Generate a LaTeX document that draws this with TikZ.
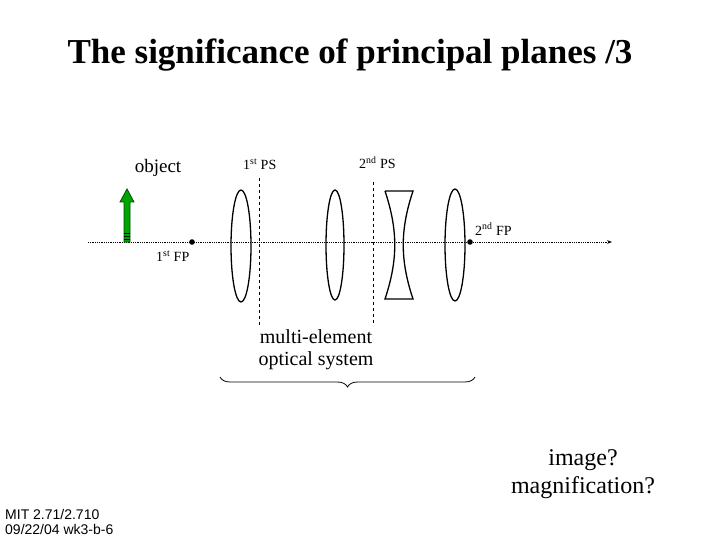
\documentclass[tikz,border=0pt]{standalone}
\usepackage{fontspec}
\setmainfont{Liberation Serif}
\setsansfont{Liberation Sans}
\usetikzlibrary{decorations.pathreplacing,arrows.meta}
\tikzset{lens/.style={draw,line width=1.3pt},pl/.style={dashed,line width=0.5pt},
 lab/.style={font=\fontsize{14}{16}\selectfont,inner sep=0pt}}
\begin{document}
\begin{tikzpicture}[x=1pt,y=-1pt]
\useasboundingbox[fill=white] (0,0) rectangle (720,540);
\node (title) at (350,55) {\fontsize{35}{40}\selectfont\bfseries The significance of principal planes /3};
\coordinate (a0) at (88,242); \coordinate (a1) at (612,242);
\draw[densely dotted,line width=0.8pt,-{Stealth[length=5pt]}] (a0) -- (a1);
\fill (192,242) circle (2.8) node (fp1) {};
\fill (470,242) circle (2.8) node (fp2) {};
\draw[lens] (241,246) ellipse (10 and 56);
\draw[lens] (335,245) ellipse (9 and 55);
\draw[lens] (455,245) ellipse (10 and 56);
\draw[lens] (385,191) -- (413,191) .. controls (400,230) and (400,260) .. (413,299) -- (385,299) .. controls (398,260) and (398,230) .. (385,191);
\draw[pl] (259,178) -- (259,325);
\draw[pl] (373,182) -- (373,325);
\draw[fill=green!65!black,draw=black!70!green,line width=0.8pt] (124,242) -- (124,202) -- (120,202) -- (127,189) -- (134,202) -- (130,202) -- (130,242) -- cycle;
\draw[black,line width=0.7pt] (124,233)--(130,233) (124,236)--(130,236) (124,239)--(130,239);
\node (obj) at (158,168) {\fontsize{19}{22}\selectfont object};
\node[lab,anchor=west] (ps1) at (243,164) {1\textsuperscript{st} PS};
\node[lab,anchor=west] (ps2) at (359,163) {2\textsuperscript{nd} PS};
\node[lab,anchor=west] (fpl2) at (475,229) {2\textsuperscript{nd} FP};
\node[lab,anchor=west] (fpl1) at (156,256) {1\textsuperscript{st} FP};
\node[align=center,font=\fontsize{20}{22}\selectfont] (mes) at (316,350) {multi-element\\optical system};
\draw[decorate,decoration={brace,amplitude=10pt,mirror},line width=0.8pt] (220,377) -- (475,377);
\node[align=center,font=\fontsize{24}{28}\selectfont] (img) at (583,474) {image?\\magnification?};
\node[align=left,anchor=south west,font=\sffamily\fontsize{14}{15}\selectfont,inner sep=0pt] (ft) at (5,535) {MIT 2.71/2.710\\09/22/04 wk3-b-6};
\end{tikzpicture}
\end{document}
